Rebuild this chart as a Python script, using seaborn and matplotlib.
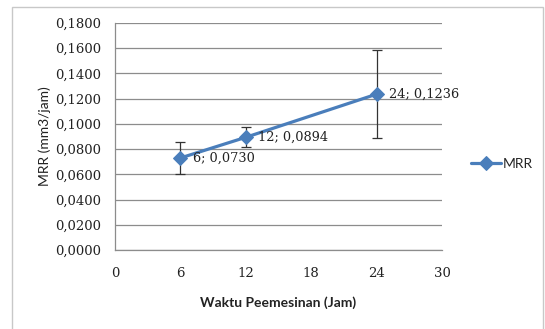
import pandas as pd
import matplotlib.pyplot as plt
import seaborn as sns
from matplotlib.ticker import FuncFormatter
from matplotlib.patches import Rectangle

# Data
waktu = [6, 12, 24]
mrr = [0.0730, 0.0894, 0.1236]
err = [0.0130, 0.0080, 0.0350]

df = pd.DataFrame({'Waktu': waktu, 'MRR': mrr, 'err': err})

sns.set_style("white")
plt.rcParams['font.family'] = ['DejaVu Serif']

biru = '#4A7EBB'
abu = '#8c8c8c'

fig = plt.figure(figsize=(5.45, 3.29), dpi=100)
ax = fig.add_axes([0.211, 0.240, 0.600, 0.690])

# border of the chart area
fig.patches.append(Rectangle((0.022, -0.01), 0.975, 0.99, transform=fig.transFigure,
                             fill=False, edgecolor='#c8c8c8', linewidth=1.0))

# error bars
ax.errorbar(df['Waktu'], df['MRR'], yerr=df['err'], fmt='none', ecolor='#333333',
            elinewidth=0.9, capsize=3.5, capthick=0.9, zorder=2)

sns.lineplot(data=df, x='Waktu', y='MRR', marker='D', markersize=7, color=biru,
             markeredgecolor=biru, linewidth=2.3, label='MRR', ax=ax, zorder=3)

# data labels
for x, y in zip(waktu, mrr):
    teks = f"{x}; {y:.4f}".replace('.', ',')
    ax.annotate(teks, (x, y), xytext=(9, 0), textcoords='offset points',
                va='center', ha='left', fontsize=9.3, family='DejaVu Serif', color='#222222')

ax.set_xlim(0, 30)
ax.set_ylim(0, 0.18)
ax.set_xticks([0, 6, 12, 18, 24, 30])
ax.set_yticks([i * 0.02 for i in range(10)])
ax.yaxis.set_major_formatter(FuncFormatter(lambda v, p: f"{v:.4f}".replace('.', ',')))

ax.grid(axis='y', color=abu, linewidth=0.9)
ax.grid(axis='x', visible=False)
for s in ['top', 'right']:
    ax.spines[s].set_visible(False)
for s in ['left', 'bottom']:
    ax.spines[s].set_color(abu)
    ax.spines[s].set_linewidth(0.9)
ax.tick_params(axis='both', which='major', length=4, width=0.9, color=abu,
               direction='out', labelsize=9.5, labelcolor='#222222', pad=8)
ax.tick_params(axis='y', pad=6)

ax.set_xlabel('Waktu Peemesinan (Jam)', family='Lato', fontsize=10, fontweight='bold',
              color='#222222', labelpad=12)
ax.set_ylabel('MRR (mm3/jam)', family='Lato', fontsize=10, color='#222222', labelpad=3)

leg = ax.legend(loc='center left', bbox_to_anchor=(1.05, 0.38), frameon=False,
                prop={'family': 'Lato', 'size': 10}, handlelength=2.2, handletextpad=0.1)

plt.savefig('out.png', dpi=100)
